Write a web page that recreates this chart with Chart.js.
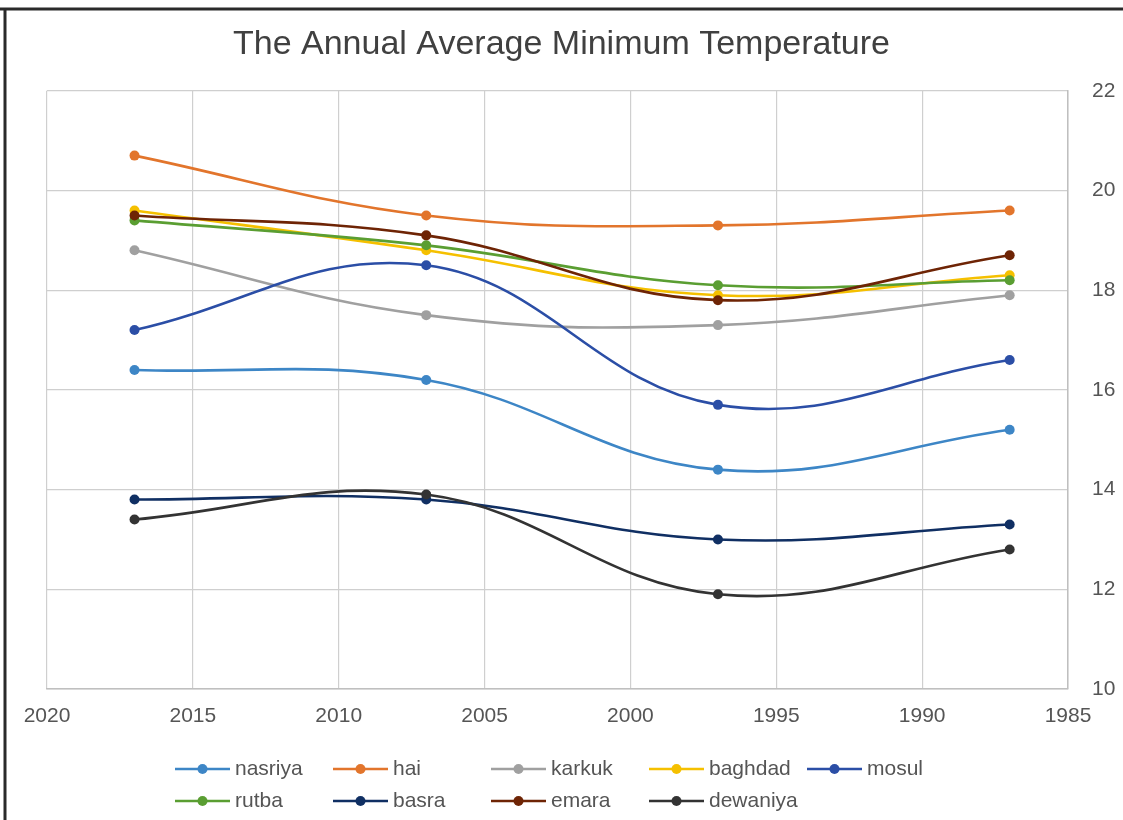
<!DOCTYPE html>
<html>
<head>
<meta charset="utf-8">
<title>The Annual Average Minimum Temperature</title>
<script src="https://cdn.jsdelivr.net/npm/chart.js@4/dist/chart.umd.min.js"></script>
<style>
  html, body { margin: 0; padding: 0; background: #fff; }
  #wrap { width: 1123px; height: 820px; }
</style>
</head>
<body>
<div id="wrap"><canvas id="temps" width="1123" height="820"></canvas></div>
<script>
// Years of observation
const years = [2017, 2007, 1997, 1987];

// Annual average minimum temperature per station
const nasriya  = [16.4, 16.2, 14.4, 15.2];
const hai      = [20.7, 19.5, 19.3, 19.6];
const karkuk   = [18.8, 17.5, 17.3, 17.9];
const baghdad  = [19.6, 18.8, 17.9, 18.3];
const mosul    = [17.2, 18.5, 15.7, 16.6];
const rutba    = [19.4, 18.9, 18.1, 18.2];
const basra    = [13.8, 13.8, 13.0, 13.3];
const emara    = [19.5, 19.1, 17.8, 18.7];
const dewaniya = [13.4, 13.9, 11.9, 12.8];

const stations = ['nasriya', 'hai', 'karkuk', 'baghdad', 'mosul', 'rutba', 'basra', 'emara', 'dewaniya'];
const series = [nasriya, hai, karkuk, baghdad, mosul, rutba, basra, emara, dewaniya];
const colors = ['#3d86c6', '#e2752c', '#a0a0a0', '#f5c000', '#2b4ea6', '#5a9e32', '#102f63', '#6e2405', '#333333'];

// Axis range and tick step
const xMin = 1985, xMax = 2020, xStep = 5;
const yMin = 10, yMax = 22, yStep = 2;

const textColor = '#555555';
const fontFamily = "'Liberation Sans', Arial, sans-serif";

const datasets = stations.map((name, i) => ({
    label: name,
    data: years.map((y, j) => ({ x: y, y: series[i][j] })),
    borderColor: colors[i],
    backgroundColor: colors[i],
    borderWidth: 2.6,
    pointRadius: 5,
    pointHoverRadius: 5,
    pointBorderWidth: 0,
    tension: 0.4,
    fill: false,
    order: stations.length - i
}));

// Outer frame (top and left edges)
const framePlugin = {
    id: 'frame',
    afterDraw(chart) {
        const ctx = chart.ctx;
        ctx.save();
        ctx.strokeStyle = '#2a2a2a';
        ctx.lineWidth = 3;
        ctx.beginPath();
        ctx.moveTo(0, 9);
        ctx.lineTo(chart.width, 9);
        ctx.moveTo(5, 9);
        ctx.lineTo(5, chart.height);
        ctx.stroke();
        ctx.restore();
    }
};

// Legend laid out on a column grid: line with marker, then the station name
const rowLegend = {
    id: 'rowLegend',
    afterDraw(chart) {
        const ctx = chart.ctx;
        const rows = [[0, 1, 2, 3, 4], [5, 6, 7, 8]];
        const left = 175, colW = 158, iconW = 55, textGap = 5;
        ctx.save();
        ctx.font = '21px ' + fontFamily;
        ctx.textBaseline = 'middle';
        rows.forEach((row, r) => {
            const y = 769 + r * 32;
            let prevEnd = 0;
            row.forEach((i, c) => {
                const ds = chart.data.datasets[i];
                const x = Math.max(left + c * colW, prevEnd + 10);
                ctx.strokeStyle = ds.borderColor;
                ctx.fillStyle = ds.borderColor;
                ctx.lineWidth = 2.6;
                ctx.beginPath();
                ctx.moveTo(x, y);
                ctx.lineTo(x + iconW, y);
                ctx.stroke();
                ctx.beginPath();
                ctx.arc(x + iconW / 2, y, 5, 0, Math.PI * 2);
                ctx.fill();
                ctx.fillStyle = textColor;
                ctx.fillText(ds.label, x + iconW + textGap, y);
                prevEnd = x + iconW + textGap + ctx.measureText(ds.label).width;
            });
        });
        ctx.restore();
    }
};

new Chart(document.getElementById('temps'), {
    type: 'line',
    data: { datasets },
    options: {
        responsive: false,
        animation: false,
        layout: { padding: 0 },
        plugins: {
            legend: { display: false },
            tooltip: { enabled: false },
            title: {
                display: true,
                text: 'The Annual Average Minimum Temperature',
                color: '#404040',
                font: { family: fontFamily, size: 34, weight: 'normal' },
                padding: { top: 24, bottom: 26 }
            }
        },
        scales: {
            x: {
                type: 'linear',
                reverse: true,
                min: xMin,
                max: xMax,
                ticks: {
                    stepSize: xStep,
                    color: textColor,
                    font: { family: fontFamily, size: 21 },
                    padding: 15,
                    maxRotation: 0,
                    callback: v => String(v)
                },
                grid: { color: '#cfcfcf', lineWidth: 1.2, drawTicks: false },
                border: { color: '#bfbfbf', width: 1.5 },
                afterFit: s => { s.height = 131; }
            },
            y: {
                position: 'right',
                min: yMin,
                max: yMax,
                ticks: {
                    stepSize: yStep,
                    color: textColor,
                    font: { family: fontFamily, size: 21 },
                    padding: 24
                },
                grid: { color: '#cfcfcf', lineWidth: 1.2, drawTicks: false },
                border: { color: '#bfbfbf', width: 1.5 },
                afterFit: s => { s.width = 55; }
            },
            // empty left margin so the plot starts at the same offset as the frame
            margin: {
                position: 'left',
                min: yMin,
                max: yMax,
                ticks: { display: false },
                grid: { display: false },
                border: { display: false },
                afterFit: s => { s.width = 47; }
            }
        }
    },
    plugins: [framePlugin, rowLegend]
});
</script>
</body>
</html>
